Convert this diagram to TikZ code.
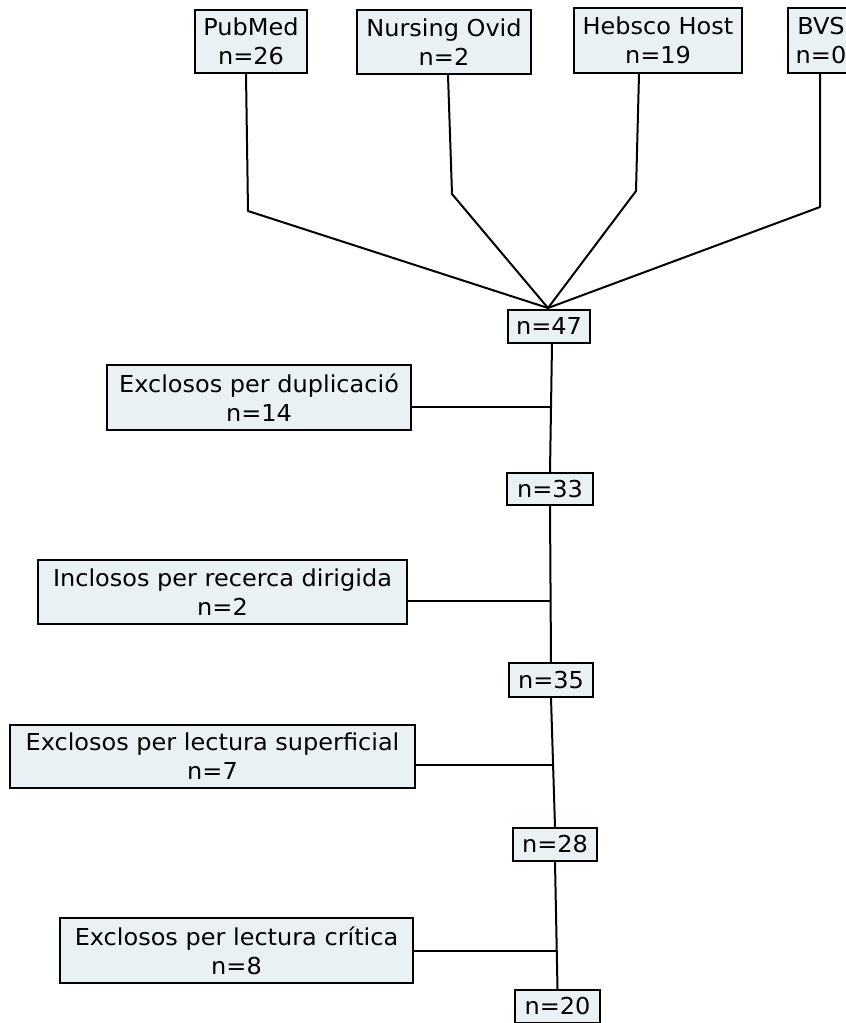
\documentclass[tikz,border=0pt]{standalone}
\usepackage{fontspec}
\setmainfont{DejaVu Sans}[FakeStretch=1.03]
\definecolor{boxfill}{HTML}{EAF1F4}
\begin{document}
\begin{tikzpicture}[x=1pt,y=-1pt,
  box/.style={draw=black, fill=boxfill, line width=2pt, align=center, inner sep=0pt,
    font=\fontsize{23.3}{29}\selectfont},
  conn/.style={line width=2pt, line join=round}]
\useasboundingbox (0,0) rectangle (846,1023);
% top sources
\node[box, minimum width=112, minimum height=63] (pub) at (251,41.5) {PubMed\\n=26};
\node[box, minimum width=174, minimum height=64] (nur) at (444,42) {Nursing Ovid\\n=2};
\node[box, minimum width=168, minimum height=65] (heb) at (658,40.5) {Hebsco Host\\n=19};
\node[box, minimum width=66, minimum height=65] (bvs) at (821,40.5) {BVS\\n=0};
% counts
\node[box, minimum width=82, minimum height=33] (n47) at (549,326.5) {n=47};
\node[box, minimum width=86, minimum height=32] (n33) at (550,489) {n=33};
\node[box, minimum width=84, minimum height=34] (n35) at (551,680) {n=35};
\node[box, minimum width=84, minimum height=33] (n28) at (555,844.5) {n=28};
\node[box, minimum width=85, minimum height=33] (n20) at (557.5,1006.5) {n=20};
% side boxes
\node[box, minimum width=304, minimum height=65] (dup) at (259,397.5) {Exclosos per duplicació\\n=14};
\node[box, minimum width=369, minimum height=64] (inc) at (222.5,592) {Inclosos per recerca dirigida\\n=2};
\node[box, minimum width=405, minimum height=63] (sup) at (212.5,756.5) {Exclosos per lectura superficial\\n=7};
\node[box, minimum width=353, minimum height=65] (crit) at (236.5,950.5) {Exclosos per lectura crítica\\n=8};
% merging connectors
\coordinate (m) at (548,308);
\coordinate (b1) at (248,211);
\coordinate (b2) at (452,194);
\coordinate (b3) at (636,191);
\coordinate (b4) at (820,207);
\draw[conn] (pub.south -| 246,0) -- (b1) -- (m);
\draw[conn] (nur.south -| 448,0) -- (b2) -- (m);
\draw[conn] (heb.south -| 639,0) -- (b3) -- (m);
\draw[conn] (bvs.south -| 820,0) -- (b4) -- (m);
% trunk
\draw[conn] (n47.south -| 552,0) -- (n33.north);
\draw[conn] (n33.south) -- (n35.north);
\draw[conn] (n35.south) -- (n28.north);
\draw[conn] (n28.south) -- (n20.north);
% side connectors
\coordinate (j1) at (551,407);
\coordinate (j2) at (551,601);
\coordinate (j3) at (554,765);
\coordinate (j4) at (556,951);
\draw[conn] (dup.east |- j1) -- (j1);
\draw[conn] (inc.east |- j2) -- (j2);
\draw[conn] (sup.east |- j3) -- (j3);
\draw[conn] (crit.east |- j4) -- (j4);
\end{tikzpicture}
\end{document}
